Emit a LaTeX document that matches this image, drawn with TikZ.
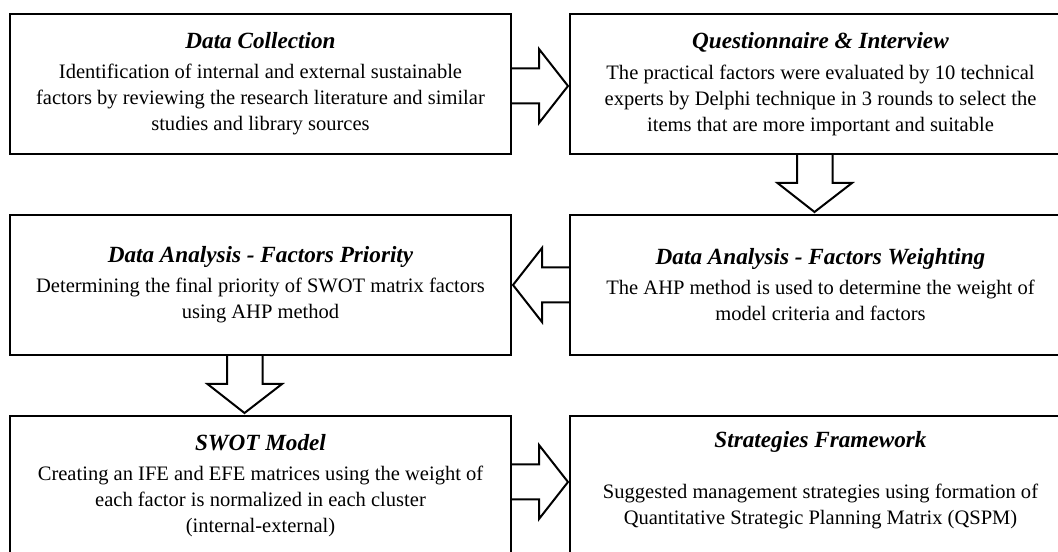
\documentclass[tikz,border=0pt]{standalone}
\usepackage{fontspec}
\setmainfont{Liberation Serif}
\usepackage{xcolor}
\usepackage{tikz}
\usetikzlibrary{calc}

\tikzset{
	stagebox/.style={draw, line width=1.5pt, inner sep=0pt, outer sep=0pt,
		minimum width=375.75pt, minimum height=105pt, align=center,
		font=\fontsize{15.4}{19.5}\selectfont},
	blockarrow/.style={line width=1.5pt, line join=miter}
}

\begin{document}
\begin{tikzpicture}[x=0.75pt,y=-0.75pt]
			\useasboundingbox (0,0) rectangle (1058,552);
			\clip (0,0) rectangle (1058,552);
			
			\node[stagebox] (dc) at (260.5,84) {{\fontsize{17.4}{20}\selectfont\bfseries\itshape Data Collection}\\[3pt]
				Identification of internal and external sustainable\\
				factors by reviewing the research literature and similar\\
				studies and library sources};
			\node[stagebox] (qi) at (820.5,84) {{\fontsize{17.4}{20}\selectfont\bfseries\itshape Questionnaire \& Interview}\\[4pt]
				The practical factors were evaluated by 10 technical\\
				experts by Delphi technique in 3 rounds to select the\\
				items that are more important and suitable};
			\node[stagebox] (fp) at (260.5,285) {{\fontsize{17.4}{20}\selectfont\bfseries\itshape Data Analysis - Factors Priority}\\[3pt]
				Determining the final priority of SWOT matrix factors\\
				using AHP method};
			\node[stagebox] (fw) at (820.5,285) {{\fontsize{17.4}{20}\selectfont\bfseries\itshape Data Analysis - Factors Weighting}\\[3pt]
				The AHP method is used to determine the weight of\\
				model criteria and factors};
			\node[stagebox] (swot) at (260.5,486) {{\fontsize{17.4}{20}\selectfont\bfseries\itshape SWOT Model}\\[3pt]
				Creating an IFE and EFE matrices using the weight of\\
				each factor is normalized in each cluster\\
				(internal-external)};
			\node[stagebox, text depth=12pt] (sf) at (820.5,486) {{\fontsize{17.4}{20}\selectfont\bfseries\itshape Strategies Framework}\\[19pt]
				Suggested management strategies using formation of\\
				Quantitative Strategic Planning Matrix (QSPM)};
			
			% block arrows between the stages
			\draw[blockarrow] ($(dc.east)+(0,-15.5)$) -- ++(28,0) -- ++(0,-19.5) -- ($(qi.west)+(-2,2)$)
				-- ($(dc.east)+(28,39)$) -- ++(0,-19.5) -- ++(-28,0);
			\draw[blockarrow] ($(qi.south)+(-23.5,0)$) -- ++(0,29) -- ++(-19.5,0) -- ($(fw.north)+(-6,-3)$)
				-- ($(qi.south)+(31.5,29)$) -- ++(-19.5,0) -- ++(0,-29);
			\draw[blockarrow] ($(fw.west)+(0,-17.5)$) -- ++(-28,0) -- ++(0,-19.5) -- ($(fp.east)+(2,0)$)
				-- ($(fw.west)+(-28,37)$) -- ++(0,-19.5) -- ++(28,0);
			\draw[blockarrow] ($(fp.south)+(-33.5,0)$) -- ++(0,29) -- ++(-19.5,0) -- ($(swot.north)+(-16,-3)$)
				-- ($(fp.south)+(21.5,29)$) -- ++(-19.5,0) -- ++(0,-29);
			\draw[blockarrow] ($(swot.east)+(0,-21.5)$) -- ++(28,0) -- ++(0,-19.5) -- ($(sf.west)+(-2,-4)$)
				-- ($(swot.east)+(28,33)$) -- ++(0,-19.5) -- ++(-28,0);
		\end{tikzpicture}
\end{document}
